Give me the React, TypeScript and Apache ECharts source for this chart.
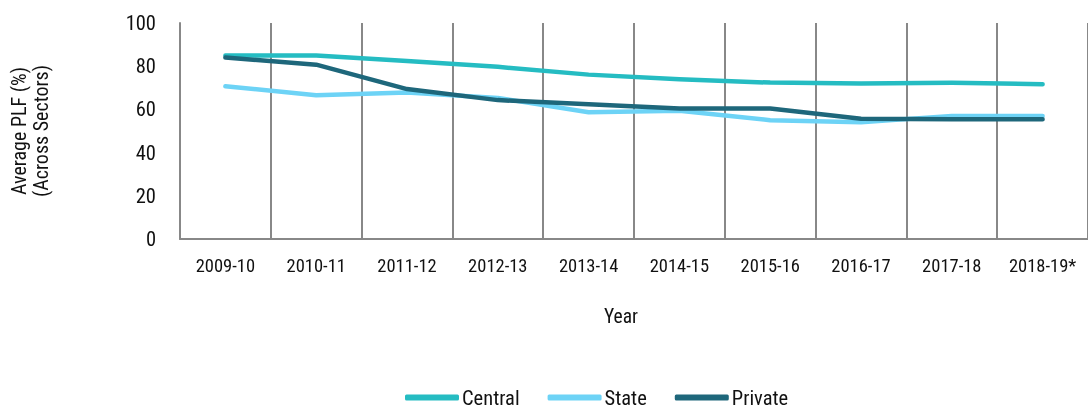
import React, { useEffect, useRef } from "react";
import * as echarts from "echarts";

const categories = ["2009-10", "2010-11", "2011-12", "2012-13", "2013-14", "2014-15", "2015-16", "2016-17", "2017-18", "2018-19*"];
const central = [85, 85, 82.4, 79.7, 76.1, 74, 72.4, 72, 72.3, 71.7];
const state = [70.7, 66.6, 67.8, 65.3, 58.7, 59.4, 55, 54, 57, 57];
const privateSector = [84, 80.7, 69.4, 64.3, 62.4, 60.4, 60.4, 55.7, 55.4, 55.4];
const yTicks = { min: 0, max: 100, interval: 20 };

const FONT = "'Liberation Sans Narrow', 'Roboto Condensed', Roboto, sans-serif";

export default function App() {
  const ref = useRef<HTMLDivElement>(null);
  useEffect(() => {
    if (!ref.current) return;
    const chart = echarts.init(ref.current, null, { renderer: "svg" });
    const mk = (name: string, data: number[], color: string) => ({
      name,
      type: "line",
      data,
      showSymbol: false,
      symbol: "none",
      lineStyle: { width: 4.5, color, cap: "round", join: "round" },
      itemStyle: { color },
    });
    chart.setOption({
      animation: false,
      textStyle: { fontFamily: FONT },
      grid: { left: 180, top: 23, width: 917, height: 216 },
      xAxis: {
        type: "category",
        data: categories,
        boundaryGap: true,
        axisLine: { lineStyle: { color: "#888", width: 2 } },
        axisTick: { show: false },
        axisLabel: { color: "#111", fontSize: 18.5, fontFamily: FONT, margin: 17, interval: 0 },
        splitLine: { show: true, lineStyle: { color: "#888", width: 2 } },
      },
      yAxis: {
        type: "value",
        min: yTicks.min,
        max: yTicks.max,
        interval: yTicks.interval,
        axisLine: { show: true, lineStyle: { color: "#888", width: 2 } },
        axisTick: { show: false },
        splitLine: { show: false },
        axisLabel: { color: "#111", fontSize: 20.5, fontFamily: FONT, margin: 24 },
        name: "Average PLF (%)\n(Across Sectors)",
        nameLocation: "middle",
        nameGap: 128,
        nameRotate: 90,
        nameTextStyle: { color: "#111", fontSize: 20, fontFamily: FONT, lineHeight: 22 },
      },
      legend: {
        top: 382,
        left: 400,
        itemWidth: 54,
        itemHeight: 6,
        itemGap: 28,
        icon: "roundRect",
        textStyle: { color: "#111", fontSize: 20.5, fontFamily: FONT, padding: [0, 0, 0, -2] },
        data: ["Central", "State", "Private"],
      },
      graphic: [
        {
          type: "text",
          left: 604,
          top: 306,
          style: { text: "Year", fill: "#111", fontSize: 19.5, fontFamily: FONT },
        },
      ],
      series: [
        mk("Central", central, "#25bcc2"),
        mk("State", state, "#6dd3f6"),
        mk("Private", privateSector, "#1e677b"),
      ],
    });
    return () => chart.dispose();
  }, []);
  return <div ref={ref} style={{ position: "fixed", left: 0, top: 0, width: 1088, height: 408 }} />;
}
